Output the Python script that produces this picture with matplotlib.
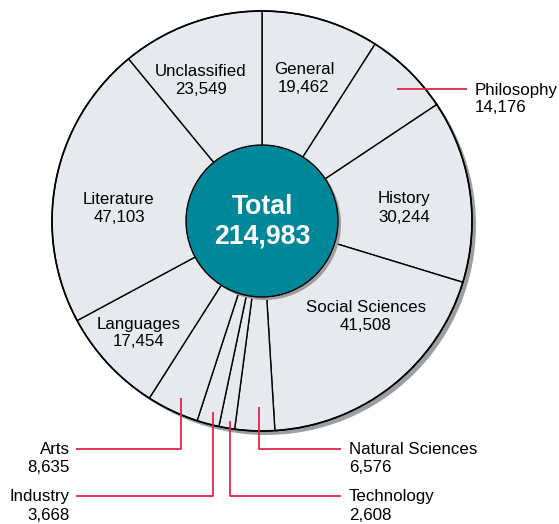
import matplotlib
matplotlib.use("Agg")
import matplotlib.pyplot as plt
from matplotlib.patches import Circle

plt.rcParams['font.family'] = ['Liberation Sans', 'DejaVu Sans']

# Data (clockwise from top)
categories = ["General", "Philosophy", "History", "Social Sciences",
              "Natural Sciences", "Technology", "Industry", "Arts",
              "Languages", "Literature", "Unclassified"]
values = [19462, 14176, 30244, 41508, 6576, 2608, 3668, 8635,
          17454, 47103, 23549]
total_label = "Total"
total_value = sum(values)

W, H = 559, 524
fig = plt.figure(figsize=(W / 100, H / 100), dpi=100)
ax = fig.add_axes([0, 0, 1, 1])
ax.set_xlim(0, W)
ax.set_ylim(0, H)
ax.axis('off')

def Y(y):
    return H - y

cx, cy = 262, Y(221)
R = 210
r_in = 76
fill = '#E6EAEE'
teal = '#00879A'
shadow = '#9C9E9F'
red = '#E2244A'

# shadow of outer pie
ax.add_patch(Circle((cx + 4, cy - 4), R, color=shadow, zorder=0, lw=0))

ax.pie(values, startangle=90, counterclock=False, center=(cx, cy), radius=R,
       colors=[fill] * len(values),
       wedgeprops=dict(edgecolor='black', linewidth=1.0), frame=True)
ax.set_xlim(0, W)
ax.set_ylim(0, H)
ax.set_aspect('equal')
ax.axis('off')
# outer edge
ax.add_patch(Circle((cx, cy), R, fill=False, ec='black', lw=1.2, zorder=3))

# inner circle + shadow
ax.add_patch(Circle((cx + 3, cy - 3), r_in, color=shadow, zorder=4, lw=0))
ax.add_patch(Circle((cx, cy), r_in, facecolor=teal, edgecolor='black', lw=1.0, zorder=5))
ax.text(cx, Y(207), total_label, ha='center', va='center', color='white',
        fontsize=19.2, fontweight='bold', zorder=6)
ax.text(cx, Y(237), f"{total_value:,}", ha='center', va='center', color='white',
        fontsize=19.2, fontweight='bold', zorder=6)

fs = 12.2
def label(name, x, y, ha='center', dy=18):
    v = values[categories.index(name)]
    ax.text(x, Y(y), name, ha=ha, va='center', fontsize=fs, zorder=6)
    ax.text(x, Y(y + dy), f"{v:,}", ha=ha, va='center', fontsize=fs, zorder=6)

label("Unclassified", 201, 72)
label("General", 304, 69)
label("History", 404, 199)
label("Social Sciences", 366, 307)
label("Literature", 119, 199)
label("Languages", 139, 324)
label("Philosophy", 475, 90, ha='left')
label("Arts", 70, 449, ha='right')
label("Industry", 70, 497, ha='right')
label("Natural Sciences", 349, 449, ha='left')
label("Technology", 349, 497, ha='left')

def leader(pts):
    xs = [p[0] for p in pts]
    ys = [Y(p[1]) for p in pts]
    ax.plot(xs, ys, color=red, lw=1.3, zorder=7, solid_capstyle='butt')

leader([(397, 89), (467, 89)])
leader([(181, 398), (181, 449), (76, 449)])
leader([(213, 412), (213, 496), (76, 496)])
leader([(230, 421), (230, 496), (341, 496)])
leader([(259, 407), (259, 449), (341, 449)])

fig.savefig("out.png", dpi=100)
